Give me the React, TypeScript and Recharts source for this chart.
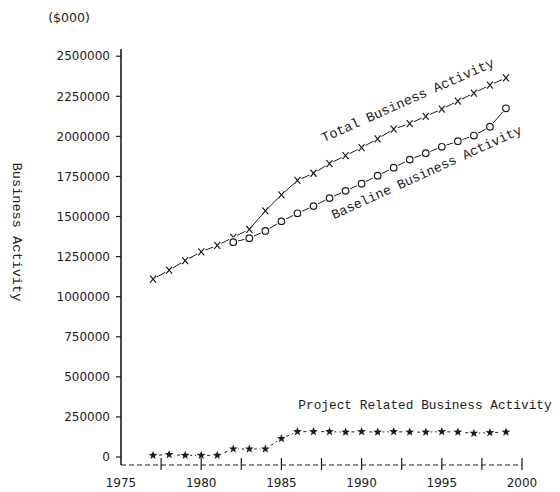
import { LineChart, Line, XAxis, YAxis } from "recharts";

const years = [
    1977, 1978, 1979, 1980, 1981, 1982, 1983, 1984, 1985, 1986, 1987, 1988,
    1989, 1990, 1991, 1992, 1993, 1994, 1995, 1996, 1997, 1998, 1999,
];

const totalActivity = [
    1110000, 1165000, 1225000, 1280000, 1320000, 1370000, 1420000, 1535000,
    1635000, 1725000, 1770000, 1830000, 1880000, 1930000, 1985000, 2045000,
    2080000, 2125000, 2170000, 2220000, 2270000, 2320000, 2365000,
];

const baselineActivity = [
    null, null, null, null, null, 1340000, 1365000, 1410000, 1470000, 1520000,
    1565000, 1615000, 1660000, 1705000, 1755000, 1805000, 1855000, 1895000,
    1935000, 1970000, 2005000, 2060000, 2175000,
];

const projectActivity = [
    10000, 15000, 10000, 10000, 10000, 50000, 50000, 50000, 115000, 158000,
    158000, 158000, 155000, 158000, 155000, 158000, 155000, 155000, 158000,
    155000, 148000, 152000, 155000,
];

const xTicks = [
    1975, 1977.5, 1980, 1982.5, 1985, 1987.5, 1990, 1992.5, 1995, 1997.5, 2000,
];

const yTicks = [
    0, 250000, 500000, 750000, 1000000, 1250000, 1500000, 1750000, 2000000,
    2250000, 2500000,
];

const data = years.map((year, i) => ({
    year,
    total: totalActivity[i],
    baseline: baselineActivity[i],
    project: projectActivity[i],
}));

const INK = "#1c1c1c";
const MONO = "'Liberation Mono', 'DejaVu Sans Mono', monospace";
const SANS = "'DejaVu Sans', sans-serif";

const XTick = (props: any) => {
    const { x, y, payload } = props;
    const v = payload.value;
    return (
        <g>
            {v !== 1975 && (
                <line x1={x} y1={y - 7} x2={x} y2={y + 5} stroke={INK} strokeWidth={1.2} />
            )}
            {v % 5 === 0 && (
                <text x={x} y={y + 22} textAnchor="middle" fill={INK} fontSize={12} fontFamily={SANS}>
                    {v}
                </text>
            )}
        </g>
    );
};

const crossDot = (props: any) => {
    const { cx, cy, index } = props;
    if (cx == null || cy == null) return <g key={`t${index}`} />;
    return (
        <g key={`t${index}`}>
            <circle cx={cx} cy={cy} r={4.5} fill="#fff" />
            <line x1={cx - 3} y1={cy - 3.5} x2={cx + 3} y2={cy + 3.5} stroke={INK} strokeWidth={1.2} />
            <line x1={cx + 3} y1={cy - 3.5} x2={cx - 3} y2={cy + 3.5} stroke={INK} strokeWidth={1.2} />
        </g>
    );
};

const ringDot = (props: any) => {
    const { cx, cy, index } = props;
    if (cx == null || cy == null) return <g key={`b${index}`} />;
    return (
        <g key={`b${index}`}>
            <circle cx={cx} cy={cy} r={5} fill="#fff" />
            <circle cx={cx} cy={cy} r={3.3} fill="#fff" stroke={INK} strokeWidth={1.2} />
        </g>
    );
};

const starDot = (props: any) => {
    const { cx, cy, index } = props;
    if (cx == null || cy == null) return <g key={`p${index}`} />;
    const pts: string[] = [];
    for (let k = 0; k < 10; k++) {
        const r = k % 2 === 0 ? 4.6 : 1.9;
        const a = -Math.PI / 2 + (k * Math.PI) / 5;
        pts.push(`${cx + r * Math.cos(a)},${cy + r * Math.sin(a)}`);
    }
    return (
        <g key={`p${index}`}>
            <circle cx={cx} cy={cy} r={5} fill="#fff" />
            <polygon points={pts.join(" ")} fill={INK} />
        </g>
    );
};

const App = () => {
    return (
        <div style={{ position: "absolute", left: 0, top: 0, width: 560, height: 492, background: "#fff" }}>
            <LineChart
                width={560}
                height={492}
                data={data}
                margin={{ top: 49, right: 38, bottom: 0, left: 0 }}
            >
                <XAxis
                    dataKey="year"
                    type="number"
                    domain={[1975, 2000]}
                    ticks={xTicks}
                    interval={0}
                    height={27}
                    tickSize={0}
                    tickMargin={0}
                    tickLine={false}
                    tick={<XTick />}
                    axisLine={{ stroke: INK, strokeWidth: 1.2, strokeDasharray: "5 3" }}
                />
                <YAxis
                    type="number"
                    domain={[-50000, 2545000]}
                    allowDataOverflow
                    ticks={yTicks}
                    interval={0}
                    width={121}
                    tickSize={5}
                    tickMargin={6}
                    axisLine={{ stroke: INK, strokeWidth: 1.6 }}
                    tickLine={{ stroke: INK, strokeWidth: 1.2 }}
                    tick={{ fill: INK, fontSize: 12, fontFamily: SANS }}
                />
                <Line
                    type="linear"
                    dataKey="total"
                    stroke={INK}
                    strokeWidth={1}
                    dot={crossDot}
                    activeDot={false}
                    isAnimationActive={false}
                />
                <Line
                    type="linear"
                    dataKey="baseline"
                    stroke={INK}
                    strokeWidth={1}
                    dot={ringDot}
                    activeDot={false}
                    isAnimationActive={false}
                />
                <Line
                    type="linear"
                    dataKey="project"
                    stroke={INK}
                    strokeWidth={1}
                    strokeDasharray="3 3"
                    dot={starDot}
                    activeDot={false}
                    isAnimationActive={false}
                />
            </LineChart>
            <svg
                width={560}
                height={492}
                style={{ position: "absolute", left: 0, top: 0, pointerEvents: "none" }}
            >
                <text x={69} y={17} textAnchor="middle" dominantBaseline="central" fill={INK} fontSize={12.5} fontFamily={SANS}>
                    ($000)
                </text>
                <text
                    x={16}
                    y={232}
                    textAnchor="middle"
                    dominantBaseline="central"
                    fill={INK}
                    fontSize={13.6}
                    fontFamily={MONO}
                    transform="rotate(90 16 232)"
                >
                    Business Activity
                </text>
                <text
                    x={408}
                    y={101}
                    textAnchor="middle"
                    dominantBaseline="central"
                    fill={INK}
                    fontSize={13.6}
                    fontFamily={MONO}
                    transform="rotate(-24 408 101)"
                >
                    Total Business Activity
                </text>
                <text
                    x={427}
                    y={173}
                    textAnchor="middle"
                    dominantBaseline="central"
                    fill={INK}
                    fontSize={13.3}
                    fontFamily={MONO}
                    transform="rotate(-24.5 427 173)"
                >
                    Baseline Business Activity
                </text>
                <text
                    x={425}
                    y={405}
                    textAnchor="middle"
                    dominantBaseline="central"
                    fill={INK}
                    fontSize={12.8}
                    fontFamily={MONO}
                >
                    Project Related Business Activity
                </text>
            </svg>
        </div>
    );
};

export default App;
